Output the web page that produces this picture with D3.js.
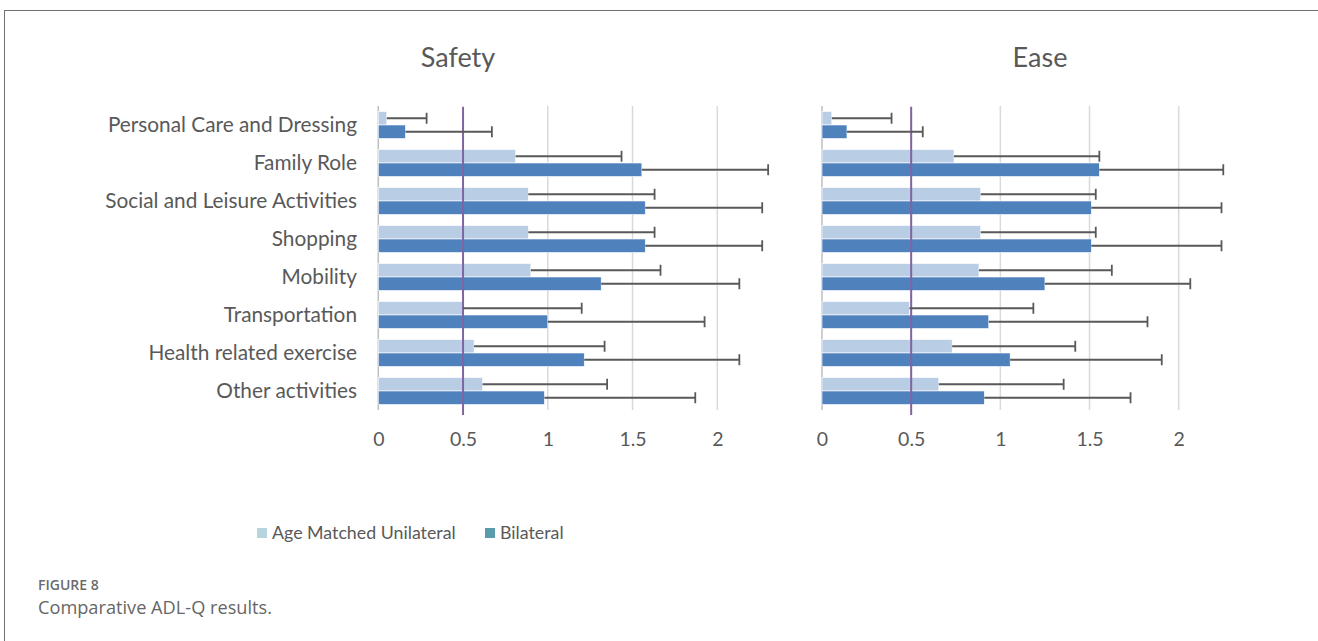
<!DOCTYPE html>
<html>
<head>
<meta charset="utf-8">
<script src="https://cdn.jsdelivr.net/npm/d3@7"></script>
<style>
  html, body { margin: 0; padding: 0; background: #ffffff; }
  svg { display: block; }
</style>
</head>
<body>
<svg id="chart" width="1318" height="641"></svg>
<script>
// ---------- DATA ----------
const categories = [
  "Personal Care and Dressing",
  "Family Role",
  "Social and Leisure Activities",
  "Shopping",
  "Mobility",
  "Transportation",
  "Health related exercise",
  "Other activities"
];
const seriesNames = ["Age Matched Unilateral", "Bilateral"];

const safetyUnilateral   = [0.05, 0.81, 0.885, 0.885, 0.90, 0.50, 0.565, 0.615];
const safetyUnilateralSD = [0.235, 0.625, 0.745, 0.745, 0.765, 0.70, 0.77, 0.735];
const safetyBilateral    = [0.16, 1.555, 1.575, 1.575, 1.315, 1.00, 1.215, 0.98];
const safetyBilateralSD  = [0.51, 0.745, 0.69, 0.69, 0.815, 0.925, 0.915, 0.89];

const easeUnilateral   = [0.055, 0.74, 0.89, 0.89, 0.88, 0.49, 0.73, 0.655];
const easeUnilateralSD = [0.335, 0.815, 0.645, 0.645, 0.745, 0.695, 0.69, 0.70];
const easeBilateral    = [0.14, 1.555, 1.51, 1.51, 1.25, 0.935, 1.055, 0.91];
const easeBilateralSD  = [0.425, 0.695, 0.73, 0.73, 0.815, 0.89, 0.85, 0.82];

const tickValues = [0, 0.5, 1, 1.5, 2];
const tickLabels = ["0", "0.5", "1", "1.5", "2"];
const referenceValue = 0.5;
const panelTitles = ["Safety", "Ease"];

// ---------- STYLE ----------
const barColors = ["#b9cde5", "#4f81bd"];
const legendColors = ["#b7d5de", "#5a9bab"];
const textColor = "#595959";
const fontFamily = "Lato, 'Open Sans', sans-serif";

const svg = d3.select("#chart");

// frame
svg.append("line").attr("x1", 4).attr("x2", 1318).attr("y1", 10.5).attr("y2", 10.5)
  .attr("stroke", "#707070").attr("stroke-width", 1);
svg.append("line").attr("x1", 4.5).attr("x2", 4.5).attr("y1", 10).attr("y2", 641)
  .attr("stroke", "#707070").attr("stroke-width", 1);

const plotTop = 106, plotBottom = 410;
const y = d3.scaleBand().domain(categories).range([plotTop, plotBottom])
  .paddingInner(0.29).paddingOuter(0.145);
const ySub = d3.scaleBand().domain(seriesNames).range([0, y.bandwidth()]);

const panels = [
  { title: panelTitles[0], x0: 378.3, x2: 717.3, titleX: 458,
    means: [safetyUnilateral, safetyBilateral], sds: [safetyUnilateralSD, safetyBilateralSD] },
  { title: panelTitles[1], x0: 822, x2: 1178.7, titleX: 1040,
    means: [easeUnilateral, easeBilateral], sds: [easeUnilateralSD, easeBilateralSD] }
];

panels.forEach((p) => {
  const x = d3.scaleLinear().domain([0, 2]).range([p.x0, p.x2]);
  const g = svg.append("g");

  // gridlines
  g.selectAll(".grid").data(tickValues.slice(1)).join("line")
    .attr("x1", d => x(d)).attr("x2", d => x(d))
    .attr("y1", plotTop).attr("y2", plotBottom)
    .attr("stroke", "#d9d9d9").attr("stroke-width", 1.5);
  // zero axis line
  g.append("line").attr("x1", x(0)).attr("x2", x(0))
    .attr("y1", plotTop).attr("y2", plotBottom)
    .attr("stroke", "#bfbfbf").attr("stroke-width", 1.5);

  // bars
  seriesNames.forEach((s, si) => {
    const data = categories.map((c, i) => ({ c, v: p.means[si][i], sd: p.sds[si][i] }));
    g.selectAll(".bar" + si).data(data).join("rect")
      .attr("x", x(0))
      .attr("y", d => y(d.c) + ySub(s))
      .attr("width", d => x(d.v) - x(0))
      .attr("height", ySub.bandwidth())
      .attr("fill", barColors[si])
      .attr("stroke", "#ffffff").attr("stroke-width", 0.6);
  });

  // reference line
  g.append("line").attr("x1", x(referenceValue)).attr("x2", x(referenceValue))
    .attr("y1", plotTop + 1).attr("y2", plotBottom + 5)
    .attr("stroke", "#8064a2").attr("stroke-width", 2);

  // error bars
  seriesNames.forEach((s, si) => {
    const data = categories.map((c, i) => ({ c, v: p.means[si][i], sd: p.sds[si][i] }));
    const eg = g.selectAll(".err" + si).data(data).join("g");
    const cy = d => y(d.c) + ySub(s) + ySub.bandwidth() / 2;
    eg.append("line")
      .attr("x1", d => x(d.v)).attr("x2", d => x(d.v + d.sd))
      .attr("y1", cy).attr("y2", cy)
      .attr("stroke", "#595959").attr("stroke-width", 1.8);
    eg.append("line")
      .attr("x1", d => x(d.v + d.sd)).attr("x2", d => x(d.v + d.sd))
      .attr("y1", d => cy(d) - 5.5).attr("y2", d => cy(d) + 5.5)
      .attr("stroke", "#595959").attr("stroke-width", 1.8);
  });

  // x axis
  const axis = d3.axisBottom(x).tickValues(tickValues)
    .tickFormat((d, i) => tickLabels[i]).tickSize(0).tickPadding(0);
  const ag = svg.append("g").attr("transform", `translate(0, 446)`).call(axis);
  ag.select(".domain").remove();
  ag.selectAll("text").attr("font-family", fontFamily).attr("font-size", 19.5)
    .attr("fill", textColor).attr("dy", 0).attr("y", 0);

  // title
  svg.append("text").attr("x", p.titleX).attr("y", 67)
    .attr("text-anchor", "middle").attr("font-family", fontFamily)
    .attr("font-size", 27).attr("fill", textColor).text(p.title);
});

// y axis labels (left panel only)
const yAxis = d3.axisLeft(y).tickSize(0).tickPadding(0);
const yg = svg.append("g").attr("transform", "translate(357,0)").call(yAxis);
yg.select(".domain").remove();
yg.selectAll("text").attr("font-family", fontFamily).attr("font-size", 20.8)
  .attr("fill", textColor);

// legend
const legend = svg.append("g");
const legendItems = [{ x: 257, name: seriesNames[0] }, { x: 485, name: seriesNames[1] }];
legendItems.forEach((it, i) => {
  legend.append("rect").attr("x", it.x).attr("y", 528).attr("width", 10).attr("height", 10)
    .attr("fill", legendColors[i]);
  legend.append("text").attr("x", it.x + 15).attr("y", 533).attr("dy", "0.35em")
    .attr("font-family", fontFamily).attr("font-size", 17.8).attr("fill", textColor)
    .text(it.name);
});

// caption
svg.append("text").attr("x", 38).attr("y", 590)
  .attr("font-family", "'Open Sans', sans-serif").attr("font-size", 14)
  .attr("font-weight", 600).attr("fill", "#6b6b6b").text("FIGURE 8");
svg.append("text").attr("x", 38).attr("y", 614)
  .attr("font-family", "'Open Sans', sans-serif").attr("font-size", 18.2)
  .attr("fill", "#666666").text("Comparative ADL-Q results.");
</script>
</body>
</html>
